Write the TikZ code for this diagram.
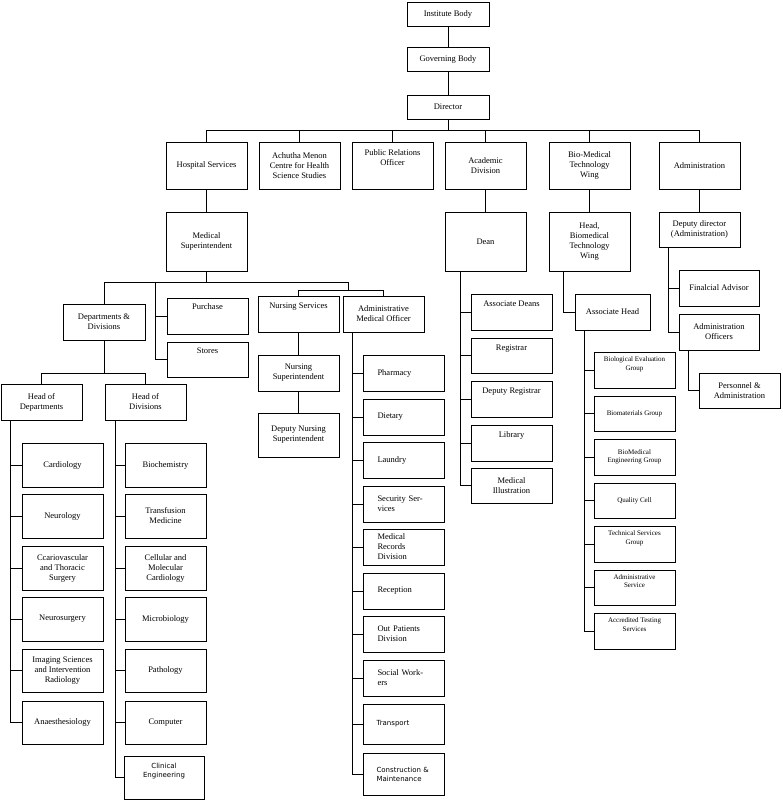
\documentclass[tikz,border=0pt]{standalone}
\usepackage{fontspec}
\setmainfont{Liberation Serif}
\newfontfamily\vsans{DejaVu Sans}
\newcommand\bx[7][]{\node[box,minimum width={(#5-#3)*1pt},minimum height={(#6-#4)*1pt},#1] (#2) at ({(#3+#5)/2},{(#4+#6)/2}) {#7};}
\begin{document}
\begin{tikzpicture}[x=1pt,y=-1pt,
  box/.style={draw,line width=0.9pt,inner sep=1pt,align=center,font=\fontsize{8.5}{10}\selectfont},
  sm/.style={font=\fontsize{7}{8.5}\selectfont},
  lft/.style={align=left,text width={52pt}},
  vs/.style={font=\vsans\fontsize{7}{9}\selectfont},
  line width=0.9pt]
\useasboundingbox (0,0) rectangle (783,806);
\fill[white] (0,0) rectangle (783,806);
\bx{ib}{407}{2}{489}{26}{Institute Body}
\bx{gb}{407}{47}{489}{71}{Governing Body}
\bx{dir}{407}{95}{489}{119}{Director}
\bx{hs}{166}{142}{247}{189}{Hospital Services}
\bx{am}{259}{142}{340}{189}{Achutha Menon\\Centre for Health\\Science Studies}
\bx{pro}{352}{142}{433}{189}{Public Relations\\Officer\\[6pt]}
\bx{ad}{445}{142}{526}{189}{Academic\\Division}
\bx{bmt}{549}{142}{630}{189}{Bio-Medical\\Technology\\Wing}
\bx{adm}{659}{142}{740}{189}{Administration}
\bx{ms}{166}{212}{247}{271}{Medical\\Superintendent}
\bx{dean}{445}{212}{526}{271}{Dean}
\bx{hbmt}{549}{212}{630}{271}{Head,\\Biomedical\\Technology\\Wing}
\bx{dd}{659}{212}{740}{247}{Deputy director\\(Administration)}
\bx{dnd}{63}{304}{145}{340}{Departments \&\\Divisions}
\bx{pur}{167}{298}{248}{334}{Purchase\\[8pt]}
\bx{sto}{167}{342}{248}{377}{Stores\\[8pt]}
\bx{ns}{258}{296}{339}{332}{Nursing Services\\[6pt]}
\bx{amo}{343}{296}{424}{332}{Administrative\\Medical Officer}
\bx{nsup}{258}{355}{339}{391}{Nursing\\Superintendent}
\bx{dns}{258}{413}{339}{457}{Deputy Nursing\\Superintendent}
\bx{hodep}{1}{384}{82}{420}{Head of\\Departments}
\bx{hodiv}{105}{384}{186}{420}{Head of\\Divisions}
% departments
\bx{d1}{22}{443}{103}{487}{Cardiology}
\bx{d2}{22}{494}{103}{538}{Neurology}
\bx{d3}{22}{546}{103}{590}{Ccariovascular\\and Thoracic\\Surgery}
\bx{d4}{22}{597}{103}{641}{Neurosurgery}
\bx{d5}{22}{649}{103}{692}{Imaging Sciences\\and Intervention\\Radiology}
\bx{d6}{22}{701}{103}{744}{Anaesthesiology}
% divisions
\bx{v1}{125}{443}{206}{487}{Biochemistry}
\bx{v2}{125}{494}{206}{538}{Transfusion\\Medicine}
\bx{v3}{125}{546}{206}{590}{Cellular and\\Molecular\\Cardiology}
\bx{v4}{125}{597}{206}{641}{Microbiology}
\bx{v5}{125}{649}{206}{692}{Pathology}
\bx{v6}{125}{701}{206}{744}{Computer}
\bx[vs]{v7}{124}{756}{204}{799}{Clinical\\Engineering\\[6pt]}
% AMO items
\bx[lft]{a1}{363}{355}{444}{391}{Pharmacy\\[8pt]}
\bx[lft]{a2}{363}{399}{444}{435}{Dietary\\[8pt]}
\bx[lft]{a3}{363}{442}{444}{478}{Laundry\\[8pt]}
\bx[lft]{a4}{363}{486}{444}{522}{Security Services\\[8pt]}
\bx[lft]{a5}{363}{529}{444}{565}{Medical Records\\Division}
\bx[lft]{a6}{363}{573}{444}{609}{Reception\\[8pt]}
\bx[lft]{a7}{363}{616}{444}{652}{Out Patients\\Division}
\bx[lft]{a8}{363}{660}{444}{696}{Social Workers\\[8pt]}
\bx[vs,align=left,text width=54pt]{a9}{363}{704}{444}{744}{Transport\\[10pt]}
\bx[vs,align=left,text width=54pt]{a10}{363}{753}{444}{795}{Construction \&\\Maintenance\\[4pt]}
% Dean items
\bx{e1}{471}{294}{552}{330}{Associate Deans\\[6pt]}
\bx{e2}{471}{338}{552}{373}{Registrar\\[6pt]}
\bx{e3}{471}{381}{552}{417}{Deputy Registrar\\[6pt]}
\bx{e4}{471}{425}{552}{461}{Library\\[6pt]}
\bx{e5}{471}{468}{552}{503}{Medical\\Illustration}
% BMT
\bx{ah}{575}{294}{650}{330}{Associate Head}
\bx[sm]{b1}{594}{352}{675}{388}{Biological Evaluation\\Group\\[4pt]}
\bx[sm]{b2}{594}{396}{675}{431}{Biomaterials Group}
\bx[sm]{b3}{594}{439}{675}{475}{BioMedical\\Engineering Group}
\bx[sm]{b4}{594}{483}{675}{518}{Quality Cell}
\bx[sm]{b5}{594}{526}{675}{562}{Technical Services\\Group\\[4pt]}
\bx[sm]{b6}{594}{570}{675}{605}{Administrative\\Service\\[4pt]}
\bx[sm]{b7}{594}{613}{675}{649}{Accredited Testing\\Services\\[4pt]}
% administration
\bx{fa}{679}{270}{759}{306}{Finalcial Advisor}
\bx{ao}{679}{314}{759}{350}{Administration\\Officers}
\bx{pa}{699}{373}{780}{408}{Personnel \&\\Administration}
% connectors
\draw (ib) -- (gb);
\draw (gb) -- (dir);
\coordinate (tb) at (0,130);
\draw (dir.south) -- (dir.south|-tb);
\draw (hs.north|-tb) -- (adm.north|-tb);
\foreach \n in {hs,am,pro,ad,bmt,adm} \draw (\n.north|-tb) -- (\n.north);
\draw (hs) -- (ms);
\draw (ad) -- (dean);
\draw (bmt) -- (hbmt);
\draw (adm) -- (dd);
% medical superintendent
\coordinate (mb) at (0,282);
\coordinate (pp) at (155,0);
\coordinate (nb) at (348,0);
\draw (ms.south) -- (ms.south|-mb);
\draw (dnd.north|-mb) -- (nb|-mb);
\draw (dnd.north|-mb) -- (dnd.north);
\draw (pp|-mb) |- (pur.west);
\draw (pp|-mb) |- (sto.west);
\coordinate (nsb) at (0,290);
\draw (nb|-mb) -- (nb|-nsb);
\draw (ns.north|-nsb) -- (amo.north|-nsb);
\draw (ns.north|-nsb) -- (ns.north);
\draw (amo.north|-nsb) -- (amo.north);
\draw (ns) -- (nsup);
\draw (nsup) -- (dns);
% depts
\coordinate (db) at (0,373);
\draw (dnd.south) -- (dnd.south|-db);
\draw (hodep.north|-db) -- (hodiv.north|-db);
\draw (hodep.north|-db) -- (hodep.north);
\draw (hodiv.north|-db) -- (hodiv.north);
\coordinate (s1) at (10,420);
\foreach \n in {d1,d2,d3,d4,d5,d6} \draw (s1) |- (\n.west);
\coordinate (s2) at (115,420);
\foreach \n in {v1,v2,v3,v4,v5,v6,v7} \draw (s2) |- (\n.west);
\coordinate (s3) at (352,332);
\foreach \n in {a1,a2,a3,a4,a5,a6,a7,a8,a9,a10} \draw (s3) |- (\n.west);
\coordinate (s4) at (460,271);
\foreach \n in {e1,e2,e3,e4,e5} \draw (s4) |- (\n.west);
\coordinate (s5) at (563,271);
\draw (s5) |- (ah.west);
\coordinate (s6) at (584,330);
\foreach \n in {b1,b2,b3,b4,b5,b6,b7} \draw (s6) |- (\n.west);
\coordinate (s7) at (668,247);
\foreach \n in {fa,ao} \draw (s7) |- (\n.west);
\coordinate (s8) at (688,350);
\draw (s8) |- (pa.west);
\end{tikzpicture}
\end{document}
